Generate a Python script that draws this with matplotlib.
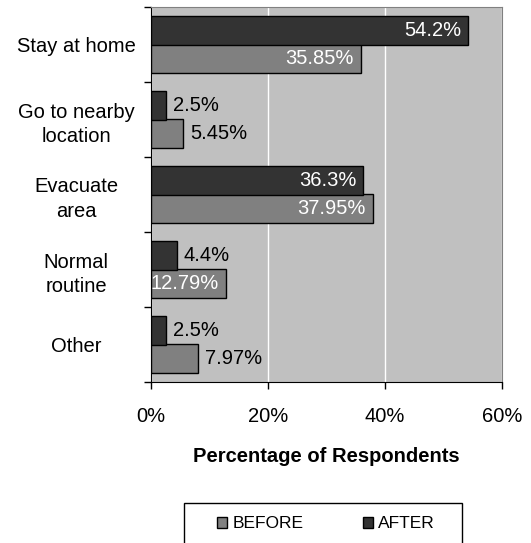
import matplotlib.pyplot as plt
import matplotlib.patches as mpatches
import numpy as np

plt.rcParams['font.family'] = ['Liberation Sans', 'DejaVu Sans']

categories = ["Stay at home", "Go to nearby\nlocation", "Evacuate\narea", "Normal\nroutine", "Other"]
before = [35.85, 5.45, 37.95, 12.79, 7.97]
after = [54.2, 2.5, 36.3, 4.4, 2.5]
before_labels = ["35.85%", "5.45%", "37.95%", "12.79%", "7.97%"]
after_labels = ["54.2%", "2.5%", "36.3%", "4.4%", "2.5%"]
xticks = [0, 20, 40, 60]

fig = plt.figure(figsize=(5.31, 5.43), dpi=100)
ax = fig.add_axes([151/531, 1-382/543, 351/531, 375/543])
ax.set_facecolor('#C0C0C0')

n = len(categories)
y = np.arange(n)[::-1]
h = 0.39
b1 = ax.barh(y - 0.19, before, height=h, color='#808080', edgecolor='black', linewidth=1, label='BEFORE', zorder=3)
b2 = ax.barh(y + 0.19, after, height=h, color='#333333', edgecolor='black', linewidth=1, label='AFTER', zorder=3)

def put_labels(bars, vals, labs):
    for bar, v, t in zip(bars, vals, labs):
        yc = bar.get_y() + bar.get_height()/2
        if v > 10:
            ax.annotate(t, (v, yc), xytext=(-5, 0), textcoords='offset points',
                        ha='right', va='center', color='white', fontsize=14.5, zorder=4)
        else:
            ax.annotate(t, (v, yc), xytext=(5, 0), textcoords='offset points',
                        ha='left', va='center', color='black', fontsize=14.5, zorder=4)

put_labels(b1, before, before_labels)
put_labels(b2, after, after_labels)

ax.set_xlim(0, 60)
ax.set_ylim(-0.5, n - 0.5)
ax.set_xticks(xticks)
ax.set_xticklabels([f"{t}%" for t in xticks], fontsize=14.5)
ax.tick_params(axis='x', length=5, width=1, pad=13, color='black')
ax.set_yticks(y)
ax.set_yticklabels(categories, fontsize=14.5, ha='center', multialignment='center', linespacing=1.35)
ax.tick_params(axis='y', which='major', length=0, pad=54)
ax.set_yticks(np.arange(-0.5, n), minor=True)
ax.tick_params(axis='y', which='minor', length=5, width=1, color='black')
ax.grid(axis='x', color='white', linewidth=1, zorder=1)
ax.set_axisbelow(True)

for s in ['top', 'right']:
    ax.spines[s].set_color('#808080')
for s in ['left', 'bottom']:
    ax.spines[s].set_color('black')

ax.set_xlabel("Percentage of Respondents", fontsize=14.5, fontweight='bold', labelpad=15)

# legend box (bottom runs off the figure like the original)
fig.patches.append(mpatches.Rectangle((184/531, 1-560/543), 278/531, 57/543,
                                      transform=fig.transFigure, facecolor='white',
                                      edgecolor='black', linewidth=1))
leg = fig.legend(handles=[b1, b2], labels=['BEFORE', 'AFTER'], loc='center left',
                 bbox_to_anchor=(217/531, 1-524/543), ncol=2, frameon=False,
                 fontsize=12.5, handlelength=0.6, handleheight=0.6,
                 handletextpad=0.3, columnspacing=3.4, borderpad=0, borderaxespad=0)

fig.savefig('out.png', dpi=100)
